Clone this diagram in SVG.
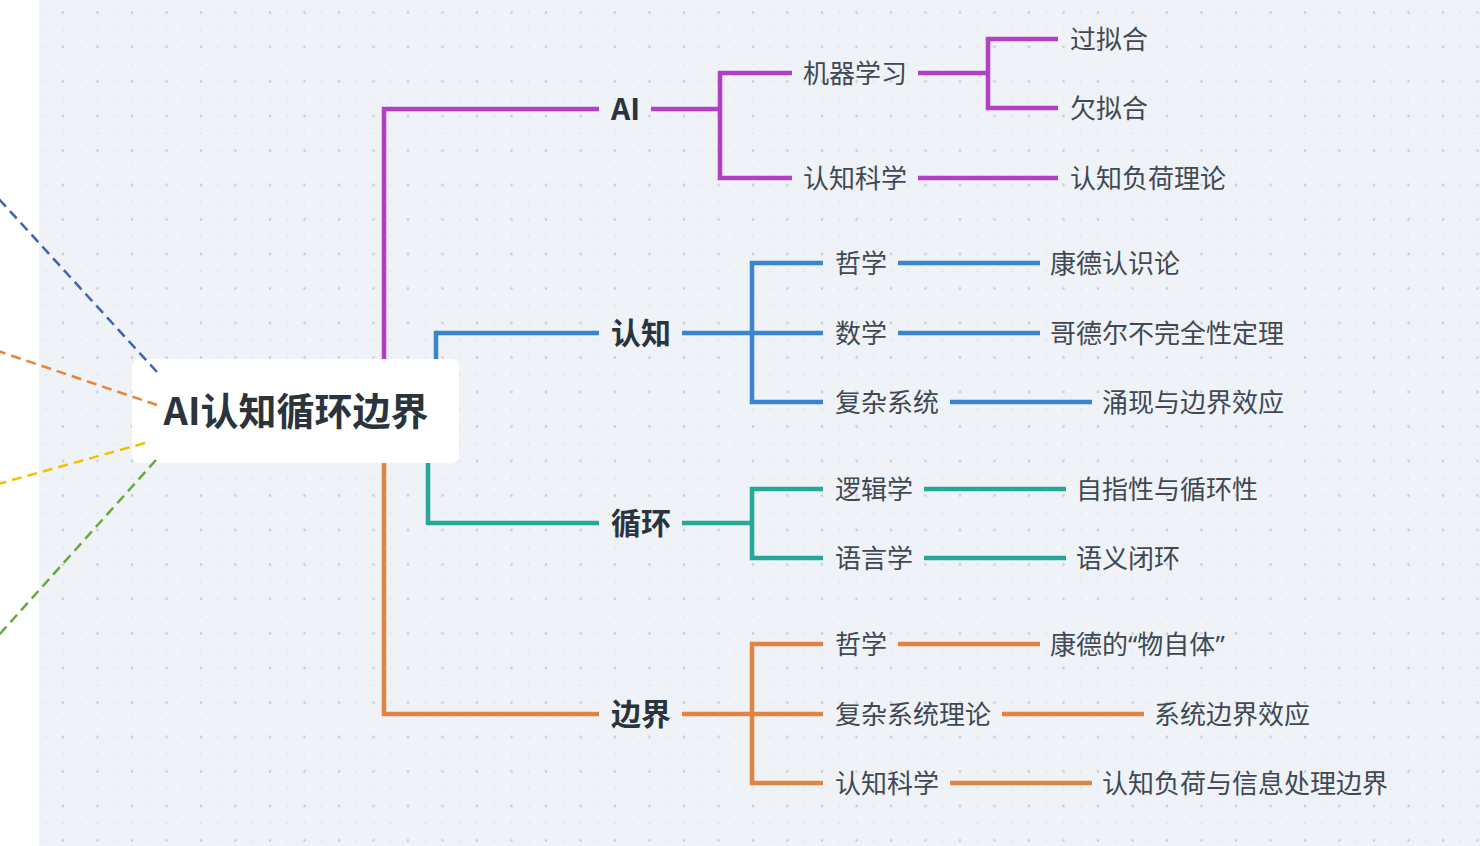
<svg xmlns="http://www.w3.org/2000/svg" width="1480" height="846" viewBox="0 0 1480 846">
  <defs>
    <pattern id="dots" x="0" y="0" width="34.5" height="34.5" patternUnits="userSpaceOnUse">
      <circle cx="11.25" cy="12.5" r="0.9" fill="#dce1e7"/>
      <circle cx="28.5" cy="29.75" r="0.9" fill="#dce1e7"/>
      <circle cx="11.25" cy="29.75" r="0.9" fill="#dce1e7"/>
      <circle cx="28.5" cy="12.5" r="1.3" fill="#c5ccd4"/>
    </pattern>
    <style>
      .l1 { font-family: "Noto Sans CJK SC", "Noto Sans", sans-serif; font-size: 30px; font-weight: 700; fill: #2b333d; }
      .l2 { font-family: "Noto Sans CJK SC", "Noto Sans", sans-serif; font-size: 26px; font-weight: 400; fill: #3f4853; }
      .q { font-family: "Noto Sans", "Liberation Sans", sans-serif; }
      .root { font-family: "Noto Sans CJK SC", "Noto Sans", sans-serif; font-size: 38px; font-weight: 700; fill: #2b333d; }
      .c { fill: none; stroke-width: 4.5; stroke-linejoin: miter; stroke-linecap: butt; }
      .purple { stroke: #b33fc8; }
      .blue { stroke: #3a85d1; }
      .teal { stroke: #26a797; }
      .orange { stroke: #e2843f; }
      .dash { fill: none; stroke-width: 2.5; stroke-dasharray: 10 6; }
    </style>
  </defs>

  <rect x="0" y="0" width="1480" height="846" fill="#ffffff"/>
  <rect x="39" y="0" width="1441" height="846" fill="#eff3f7"/>
  <rect x="39" y="0" width="1441" height="846" fill="url(#dots)"/>

  <g id="connectors">
    <g class="c purple">
      <path d="M384 362 V109 H599"/>
      <path d="M651 109 H720"/>
      <path d="M792 73 H720 V178 H792"/>
      <path d="M918 73 H988"/>
      <path d="M1058 39 H988 V108 H1058"/>
      <path d="M918 178 H1058"/>
    </g>
    <g class="c blue">
      <path d="M436 362 V333 H599"/>
      <path d="M682 333 H823"/>
      <path d="M823 263 H752 V402 H823"/>
      <path d="M898 263 H1040"/>
      <path d="M898 333 H1040"/>
      <path d="M950 402 H1092"/>
    </g>
    <g class="c teal">
      <path d="M428 460 V523 H599"/>
      <path d="M682 523 H752"/>
      <path d="M823 489 H752 V558 H823"/>
      <path d="M924 489 H1066"/>
      <path d="M924 558 H1066"/>
    </g>
    <g class="c orange">
      <path d="M384 460 V714 H599"/>
      <path d="M682 714 H823"/>
      <path d="M823 644 H752 V783 H823"/>
      <path d="M898 644 H1040"/>
      <path d="M1002 714 H1144"/>
      <path d="M950 783 H1092"/>
    </g>
  </g>

  <g id="root">
    <rect x="132" y="359" width="327" height="104" rx="8" fill="#ffffff"/>
    <text class="root" x="296" y="425" text-anchor="middle">AI认知循环边界</text>
  </g>

  <g id="external-links">
    <path class="dash" stroke="#3c64b4" d="M157 372 L-2 198"/>
    <path class="dash" stroke="#e8833a" d="M157 405 L-2 351"/>
    <path class="dash" stroke="#f2c200" d="M145 443 L-2 484"/>
    <path class="dash" stroke="#68a83e" d="M156 460 L-2 636"/>
  </g>

  <g id="n-ai"><text class="l1" x="611" y="120">AI</text></g>
  <g id="n-renzhi"><text class="l1" x="611" y="344">认知</text></g>
  <g id="n-xunhuan"><text class="l1" x="611" y="534">循环</text></g>
  <g id="n-bianjie"><text class="l1" x="611" y="725">边界</text></g>

  <g id="n-jiqixuexi"><text class="l2" x="803" y="83">机器学习</text></g>
  <g id="n-renzhikexue1"><text class="l2" x="803" y="188">认知科学</text></g>
  <g id="n-guonihe"><text class="l2" x="1070" y="49">过拟合</text></g>
  <g id="n-qiannihe"><text class="l2" x="1070" y="118">欠拟合</text></g>
  <g id="n-renzhifuhe"><text class="l2" x="1070" y="188">认知负荷理论</text></g>

  <g id="n-zhexue1"><text class="l2" x="835" y="273">哲学</text></g>
  <g id="n-shuxue"><text class="l2" x="835" y="343">数学</text></g>
  <g id="n-fuzaxitong"><text class="l2" x="835" y="412">复杂系统</text></g>
  <g id="n-kangde1"><text class="l2" x="1050" y="273">康德认识论</text></g>
  <g id="n-gedeer"><text class="l2" x="1050" y="343">哥德尔不完全性定理</text></g>
  <g id="n-yongxian"><text class="l2" x="1102" y="412">涌现与边界效应</text></g>

  <g id="n-luojixue"><text class="l2" x="835" y="499">逻辑学</text></g>
  <g id="n-yuyanxue"><text class="l2" x="835" y="568">语言学</text></g>
  <g id="n-zizhi"><text class="l2" x="1076" y="499">自指性与循环性</text></g>
  <g id="n-yuyi"><text class="l2" x="1076" y="568">语义闭环</text></g>

  <g id="n-zhexue2"><text class="l2" x="835" y="654">哲学</text></g>
  <g id="n-fuzaxitonglilun"><text class="l2" x="835" y="724">复杂系统理论</text></g>
  <g id="n-renzhikexue2"><text class="l2" x="835" y="793">认知科学</text></g>
  <g id="n-kangde2"><text class="l2" x="1050" y="654">康德的<tspan class="q">“</tspan>物自体<tspan class="q">”</tspan></text></g>
  <g id="n-xitongbianjie"><text class="l2" x="1154" y="724">系统边界效应</text></g>
  <g id="n-renzhifuhe2"><text class="l2" x="1102" y="793">认知负荷与信息处理边界</text></g>
</svg>
